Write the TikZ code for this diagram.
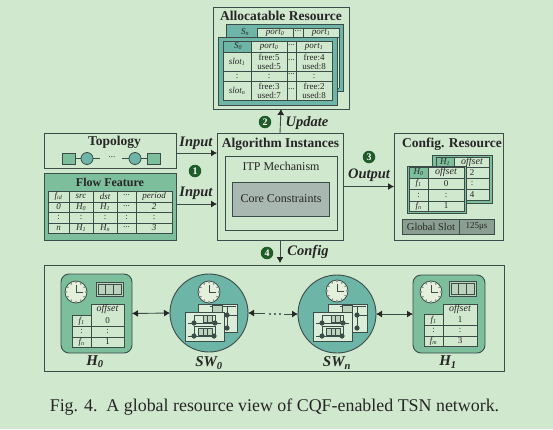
\documentclass[tikz,border=0pt]{standalone}
\usepackage{fontspec}
\setmainfont{Liberation Serif}
\usetikzlibrary{arrows.meta}
\definecolor{bgc}{HTML}{D0E8CE}
\definecolor{ink}{HTML}{3C4C48}
\definecolor{tealc}{HTML}{6DB5A6}
\definecolor{greenc}{HTML}{7DBE9C}
\definecolor{corec}{HTML}{A9B8B0}
\definecolor{slotc}{HTML}{8A9F92}
\definecolor{badge}{HTML}{1E5C28}
\definecolor{clockc}{HTML}{E4EFDC}
\newcounter{lblc}
\newcommand{\lbl}[4][]{\stepcounter{lblc}\node[txt,#1] (t\arabic{lblc}) at (#2,#3) {#4};}
\newcommand{\rbox}[6]{\node[#2,minimum width={(#5-#3)*1pt},minimum height={(#6-#4)*1pt}] (#1) at ({(#3+#5)/2},{(#4+#6)/2}) {};}
\newcommand{\sbs}[1]{\textsubscript{\textit{#1}}}
\newcommand{\vrules}[3]{\foreach \q in {#1} \draw[grid] (\q,#2) -- (\q,#3);}
\newcommand{\hrules}[3]{\foreach \q in {#1} \draw[grid] (#2,\q) -- (#3,\q);}
\newcommand{\clockat}[3]{%
 \begin{scope}[shift={(#1,#2)}]
  \node[clockface] (#3) at (0,0) {};
  \foreach \a in {0,30,...,330} \fill[ink] (\a:9.3) circle (0.65);
  \draw[ink,line width=1pt] (0,-7) -- (0,0) -- (7,0);
 \end{scope}}
\newcommand{\cellsbar}[5]{%
 \rbox{#1}{barbox}{#2}{#3}{#4}{#5}
 \foreach \f in {0,1,2} \draw[ink,line width=.7pt,fill=bgc!70!slotc] ({#2+2+\f*(#4-#2-4)/3},{#3+2}) rectangle ({#2+2+(\f+1)*(#4-#2-4)/3},{#5-2});}
\newcommand{\swpanel}[3]{%
 \begin{scope}[shift={(#1,#2)}]
  \ifnum#3=0
   \draw[pline] (12,2) -- (38,2);
   \draw[pline] (29,2) -- (29,24) ; \draw[pline] (29,11) -- (39,11);
   \draw[cellb] (14,1) rectangle (24,8);
   \fill[ink] (29,11) circle (2.6) (29,24) circle (2.6);
  \else
   \draw[pline] (9,3) -- (9,11) (3,11) -- (36,11) (9,3) -- (30,3) (30,3) -- (30,11);
   \draw[pline] (9,14) -- (30,14) (9,14) -- (9,24) (30,14) -- (30,24) (3,24) -- (30,24);
   \draw[cellb] (18,3) rectangle (27,10);
   \draw[cellb] (13,16) rectangle (27,23);
   \draw[cellb] (18,16) -- (18,23) (22,16) -- (22,23) (22,3) -- (22,10);
   \fill[ink] (9,11) circle (2.6) (30,11) circle (2.6) (9,24) circle (2.6) (29,24) circle (2.6);
  \fi
 \end{scope}}
\tikzset{
 txt/.style={inner sep=0pt,outer sep=0pt,text=black!85,font=\fontsize{9}{9}\selectfont\itshape,align=center},
 up/.style={font=\fontsize{9}{9}\selectfont},
 off/.style={font=\fontsize{10}{10}\selectfont\itshape},
 head/.style={font=\fontsize{13.5}{14}\selectfont\bfseries},
 subhead/.style={font=\fontsize{12}{13}\selectfont\bfseries},
 mid/.style={font=\fontsize{12}{13}\selectfont},
 slotlbl/.style={font=\fontsize{10.5}{11}\selectfont},
 flowlbl/.style={font=\fontsize{14.5}{15}\selectfont\bfseries\itshape},
 hostlbl/.style={font=\fontsize{15}{16}\selectfont\bfseries\itshape},
 frame/.style={draw=ink,line width=.9pt,inner sep=0pt,outer sep=0pt},
 tealbox/.style={frame,fill=tealc},
 greenbox/.style={frame,fill=greenc},
 lightbox/.style={frame,fill=bgc},
 corebox/.style={frame,fill=corec},
 slotbox/.style={frame,fill=slotc},
 barbox/.style={frame,fill=bgc!70!slotc},
 hostbox/.style={frame,fill=greenc,rounded corners=8pt},
 grid/.style={draw=ink,line width=.8pt},
 clockface/.style={circle,draw=ink,line width=.8pt,fill=clockc,minimum size=22pt,inner sep=0pt},
 swcirc/.style={circle,draw=ink,line width=.9pt,fill=tealc,minimum size=78pt,inner sep=0pt,outer sep=0pt},
 panel/.style={draw=ink,line width=.8pt,fill=bgc!80!white,inner sep=0pt,outer sep=0pt},
 pline/.style={draw=ink,line width=.8pt},
 cellb/.style={draw=ink,line width=.6pt,fill=bgc!70!slotc},
 conn/.style={draw=ink,line width=.9pt,-{Latex[length=6pt,width=7pt,black!85]}},
 conn2/.style={draw=ink,line width=.9pt,{Latex[length=6pt,width=7pt,black!85]}-{Latex[length=6pt,width=7pt,black!85]}},
 badgec/.style={circle,fill=badge,text=white,inner sep=0pt,minimum size=12.5pt,font=\fontsize{10}{10}\selectfont\bfseries},
 topocirc/.style={circle,draw=ink,line width=.8pt,fill=tealc,minimum size=12pt,inner sep=0pt,outer sep=0pt},
}
\begin{document}
\begin{tikzpicture}[x=1pt,y=-1pt]
\fill[bgc] (0,0) rectangle (553,429);
\useasboundingbox (0,0) rectangle (553,429);

% ---------- Allocatable Resource
\rbox{alloc}{frame}{213}{7}{349}{109}
\lbl[head]{281}{16}{Allocatable Resource}
\rbox{allocback}{tealbox}{226}{24}{343}{91}
\lbl{245}{32}{S\sbs{n}}
\foreach \xa/\xb in {257/293,293/303,303/339}{\fill[bgc] (\xa,28) rectangle (\xb,88);}
\vrules{257,293,303,339}{28}{88}
\hrules{28,37,88}{257}{339}
\draw[grid] (231,37) -- (257,37);
\lbl{275}{32.5}{port\sbs{0}}
\lbl[up]{298}{31.5}{...}
\lbl{321}{32.5}{port\sbs{1}}
\rbox{allocfront}{tealbox}{218}{37}{337}{105}
\fill[bgc] (251,41) rectangle (332,52);
\fill[bgc] (223,52) rectangle (332,100);
\draw[grid] (223,41) rectangle (332,100);
\vrules{251,287,296}{41}{100}
\hrules{52,71,81}{223}{332}
\lbl{238}{46.5}{S\sbs{0}}
\lbl{269}{46.5}{port\sbs{0}}
\lbl[up]{291.5}{45.5}{...}
\lbl{314}{46.5}{port\sbs{1}}
\lbl{237}{61.5}{slot\sbs{1}}
\lbl[up]{269}{61.5}{free:5\\used:5}
\lbl[up]{291.5}{60.5}{...}
\lbl[up]{314}{61.5}{free:4\\used:8}
\lbl[up]{237}{76}{:}
\lbl[up]{269}{76}{:}
\lbl[up]{291.5}{74.5}{...}
\lbl[up]{314}{76}{:}
\lbl{237}{90.5}{slot\sbs{n}}
\lbl[up]{269}{90.5}{free:3\\used:7}
\lbl[up]{291.5}{89.5}{...}
\lbl[up]{314}{90.5}{free:2\\used:8}

% ---------- Topology
\rbox{topo}{frame}{44}{133}{176}{168}
\lbl[head]{114.5}{142}{Topology}
\rbox{ta}{greenbox}{62}{153}{75}{164}
\node[topocirc] (tb) at (87,158.5) {};
\node[topocirc] (tc) at (135,158.5) {};
\rbox{td}{greenbox}{147}{153}{160}{164}
\coordinate (tbe) at (100,158.5);
\coordinate (tcw) at (122,158.5);
\draw[grid] (ta) -- (tb) -- (tbe);
\draw[grid] (tcw) -- (tc) -- (td);
\lbl[up]{112}{157}{...}

% ---------- Flow Feature
\rbox{flow}{greenbox}{44}{173}{176}{240}
\lbl[subhead]{110}{182}{Flow Feature}
\fill[bgc] (48,191) rectangle (172,233);
\draw[grid] (48,191) rectangle (172,233);
\vrules{69,93,117,136}{191}{233}
\hrules{202,212,223}{48}{172}
\lbl{58.5}{196.5}{f\sbs{id}}
\lbl{81}{196.5}{src}
\lbl{105}{196.5}{dst}
\lbl[up]{126.5}{195.5}{...}
\lbl{154}{196.5}{period}
\lbl{58.5}{207}{0}
\lbl{81}{207}{H\sbs{0}}
\lbl{105}{207}{H\sbs{1}}
\lbl[up]{126.5}{206}{...}
\lbl{154}{207}{2}
\foreach \q in {58.5,81,105,126.5,154}{\lbl[up]{\q}{217.5}{:}}
\lbl{58.5}{228}{n}
\lbl{81}{228}{H\sbs{1}}
\lbl{105}{228}{H\sbs{n}}
\lbl[up]{126.5}{227}{...}
\lbl{154}{228}{3}

% ---------- Algorithm
\rbox{algo}{frame}{217}{133}{343}{240}
\lbl[head]{280.5}{144}{Algorithm Instances}
\rbox{itp}{frame}{225}{156}{337}{230}
\lbl[mid]{281}{166}{ITP Mechanism}
\rbox{core}{corebox}{232}{182}{329}{216}
\lbl[mid]{281}{198.5}{Core Constraints}

% ---------- Config Resource
\rbox{config}{frame}{394}{133}{503}{240}
\lbl[head]{452}{144}{Config. Resource}
\rbox{cfgback}{greenbox}{432}{155}{492}{203}
\fill[bgc] (454,157) rectangle (489,167);
\fill[bgc] (436,167) rectangle (489,200);
\draw[grid] (436,157) rectangle (489,200);
\draw[grid] (454,157) -- (454,200);
\hrules{167,178,189}{436}{489}
\lbl{445}{162}{H\sbs{1}}
\lbl[off]{472}{162}{offset}
\lbl[up]{472}{172.5}{2}
\lbl[up]{472}{183}{:}
\lbl[up]{472}{194.5}{4}
\rbox{cfgfront}{greenbox}{407}{166}{466}{213}
\fill[bgc] (428,167) rectangle (464,178);
\fill[bgc] (409,178) rectangle (464,211);
\draw[grid] (409,167) rectangle (464,211);
\draw[grid] (428,167) -- (428,211);
\hrules{178,189,201}{409}{464}
\lbl{418.5}{172.5}{H\sbs{0}}
\lbl[off]{446}{172.5}{offset}
\lbl{418.5}{183.5}{f\sbs{1}}
\lbl[up]{446}{183.5}{0}
\lbl[up]{418.5}{195}{:}
\lbl[up]{446}{195}{:}
\lbl{418.5}{206}{f\sbs{n}}
\lbl[up]{446}{206}{1}
\rbox{gslot}{slotbox}{402}{219}{494}{234}
\draw[grid] (459,219) -- (459,234);
\lbl[slotlbl]{431}{226.5}{Global Slot}
\lbl[up]{476.5}{226}{125μs}

% ---------- Network
\rbox{net}{frame}{44}{265}{504}{371}
% H0
\rbox{hzero}{hostbox}{61}{274}{132}{353}
\clockat{76}{292}{ckh0}
\cellsbar{barh0}{96}{282}{123}{296}
\fill[bgc] (91,304) rectangle (124,347) (72,315) rectangle (91,347);
\draw[grid] (91,304) rectangle (124,347) (72,315) rectangle (91,347);
\hrules{326,337}{72}{124}
\lbl[off]{107.5}{309.5}{offset}
\lbl{81.5}{321}{f\sbs{1}}
\lbl[up]{107.5}{320.5}{0}
\lbl[up]{81.5}{331.5}{:}
\lbl[up]{107.5}{331.5}{:}
\lbl{81.5}{342}{f\sbs{n}}
\lbl[up]{107.5}{342}{1}
\lbl[hostlbl]{95}{362}{H\sbs{0}}
% SW0
\node[swcirc] (swzero) at (209,313) {};
\clockat{209}{292}{cks0}
\rbox{pa}{panel}{198}{304}{237}{332}
\swpanel{198}{304}{0}
\rbox{pb}{panel}{185}{312}{224}{341}
\swpanel{185}{312}{1}
\lbl[hostlbl]{209}{363}{SW\sbs{0}}
% SWn
\node[swcirc] (swn) at (337,314) {};
\clockat{337}{291}{cksn}
\rbox{pc}{panel}{328}{304}{367}{332}
\swpanel{328}{304}{0}
\rbox{pd}{panel}{313}{312}{352}{341}
\swpanel{313}{312}{1}
\lbl[hostlbl]{337}{363}{SW\sbs{n}}
% H1
\rbox{hone}{hostbox}{413}{275}{485}{353}
\clockat{431}{292}{ckh1}
\cellsbar{barh1}{449}{281}{476}{296}
\fill[bgc] (443,304) rectangle (477,346) (424,314) rectangle (443,346);
\draw[grid] (443,304) rectangle (477,346) (424,314) rectangle (443,346);
\hrules{325,336}{424}{477}
\lbl[off]{460}{309.5}{offset}
\lbl{433.5}{320}{f\sbs{1}}
\lbl[up]{460}{319.5}{1}
\lbl[up]{433.5}{330.5}{:}
\lbl[up]{460}{330.5}{:}
\lbl{433.5}{341}{f\sbs{m}}
\lbl[up]{460}{341}{3}
\lbl[hostlbl]{448}{362}{H\sbs{1}}
% dots and free ends
\foreach \q in {270,275,280}{\fill[ink] (\q,314) circle (1.2);}
\coordinate (dotsl) at (265,313);
\coordinate (dotsr) at (284,314);

% ---------- Connectors
\draw[conn] ([yshift=-2.5pt]topo.east) -- ([yshift=-2.5pt]topo.east -| algo.west);
\draw[conn] ([yshift=2.5pt]flow.east) -- ([yshift=2.5pt]flow.east -| algo.west);
\draw[conn] (algo.north) -- (alloc.south);
\draw[conn] (algo.east) -- (algo.east -| config.west);
\draw[conn] (algo.south) -- ([yshift=2pt]algo.south |- net.north);
\draw[conn2] (hzero.east) -- (swzero.west);
\draw[conn] (dotsl) -- (swzero.east);
\draw[conn] (dotsr) -- (swn.west);
\draw[conn2] (swn.east) -- (hone.west);

% ---------- Flow labels
\lbl[flowlbl]{196}{143}{Input}
\lbl[flowlbl]{196}{193}{Input}
\lbl[flowlbl]{307}{123}{Update}
\lbl[flowlbl]{369}{175}{Output}
\lbl[flowlbl]{308}{252}{Config}
\node[badgec] (bone) at (195,171) {1};
\node[badgec] (btwo) at (265,122) {2};
\node[badgec] (bthree) at (369,157) {3};
\node[badgec] (bfour) at (267,253) {4};

% ---------- Caption
\node[inner sep=0pt,text=black!85,font=\fontsize{17.9}{20}\selectfont] (cap) at (274.5,407) {Fig. 4.\ \ A global resource view of CQF-enabled TSN network.};
\end{tikzpicture}
\end{document}
